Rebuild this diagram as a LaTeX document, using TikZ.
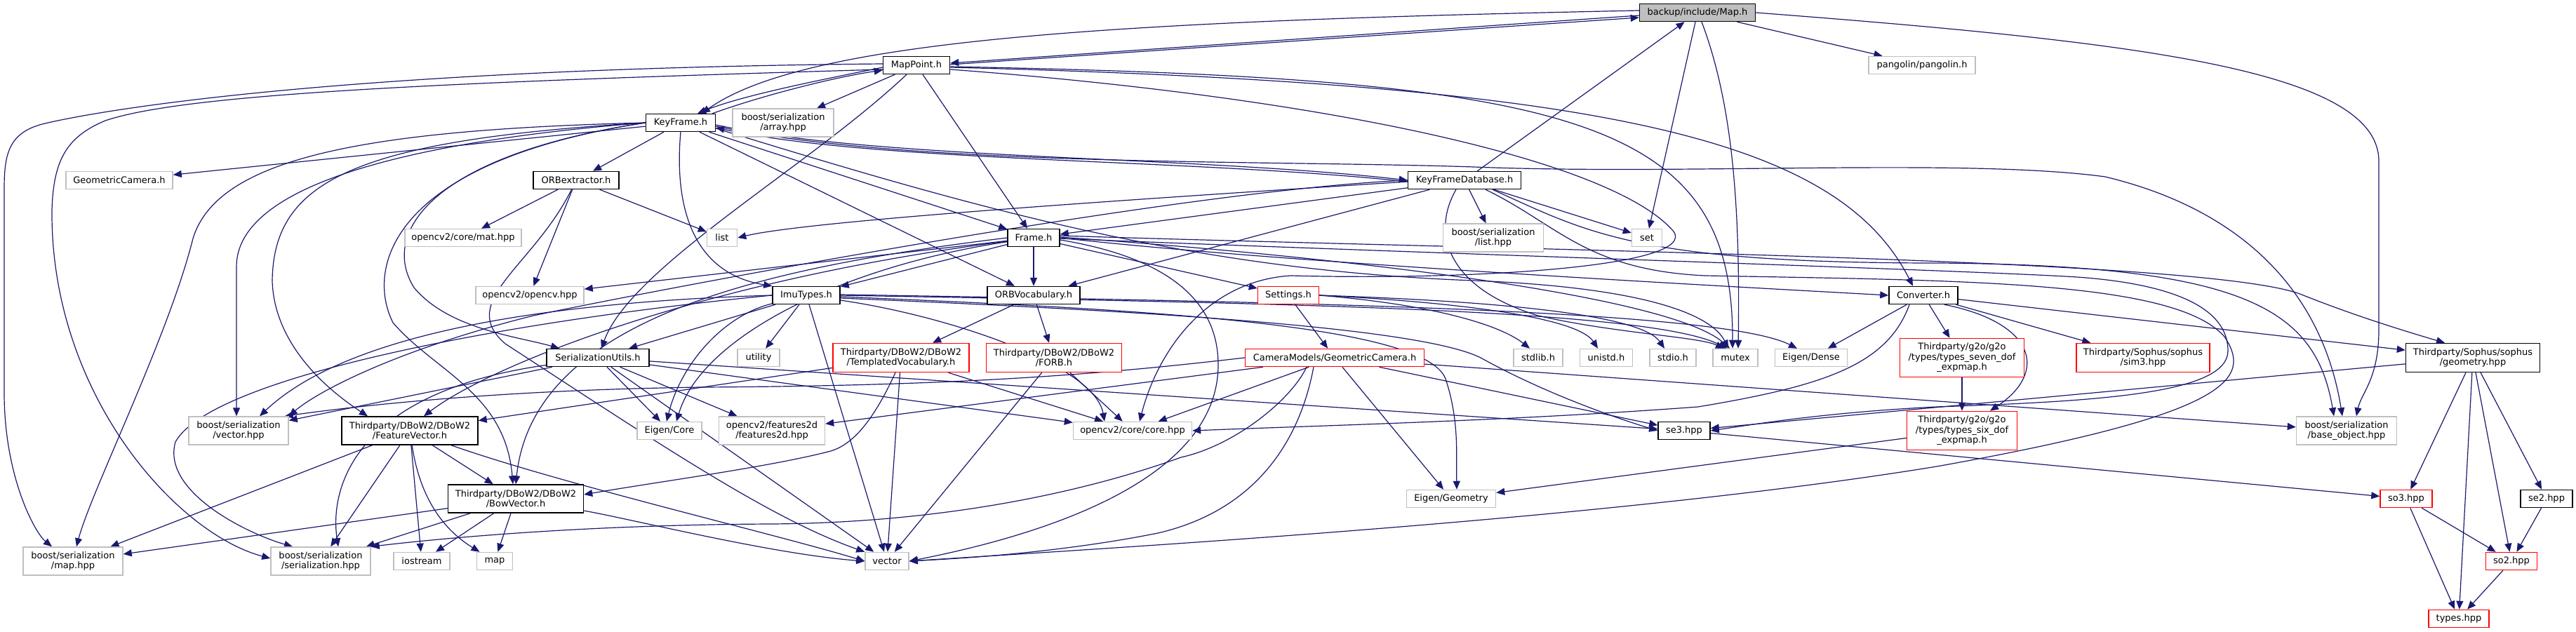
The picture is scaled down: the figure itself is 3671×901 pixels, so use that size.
\documentclass[tikz,border=0pt]{standalone}
\usepackage{fontspec}
\setmainfont{DejaVu Sans}
\usetikzlibrary{arrows.meta,calc}
\pgfdeclarelayer{bg}
\pgfsetlayers{bg,main}
\definecolor{edgec}{HTML}{191970}
\definecolor{grayb}{HTML}{BFBFBF}
\definecolor{mapfill}{HTML}{BFBFBF}
\begin{document}
\begin{tikzpicture}[x=1pt,y=-1pt,
  nb/.style={draw,fill=white,line width=1.5pt,inner sep=0pt,minimum height=25pt,align=center,font=\fontsize{13}{14.5}\selectfont},
  ext/.style={nb,draw=grayb},
  blk/.style={nb,draw=black},
  trn/.style={nb,draw=red},
  lnk/.style={draw=edgec,line width=1.2pt,-{Triangle[length=12pt,width=10pt]}}]
\useasboundingbox (0,0) rectangle (3671,901);
% nodes
\node[blk,fill=mapfill,minimum width=165pt] (map) at (2419,18) {backup/include/Map.h};
\node[blk,minimum width=95pt] (mp) at (1306,93) {MapPoint.h};
\node[ext,minimum width=152pt] (pang) at (2739,93) {pangolin/pangolin.h};
\node[blk,minimum width=99pt] (kf) at (970,175) {KeyFrame.h};
\node[ext,minimum width=144pt,minimum height=40pt] (arr) at (1116,175) {boost/serialization\\/array.hpp};
\node[ext,minimum width=152pt] (gcamh) at (170,257) {GeometricCamera.h};
\node[blk,minimum width=122pt] (orbx) at (821,257) {ORBextractor.h};
\node[blk,minimum width=161pt] (kfd) at (2087,257) {KeyFrameDatabase.h};
\node[ext,minimum width=166pt] (mat) at (660,339) {opencv2/core/mat.hpp};
\node[ext,minimum width=43pt] (list) at (1029,339) {list};
\node[blk,minimum width=74pt] (frame) at (1473,339) {Frame.h};
\node[ext,minimum width=143pt,minimum height=40pt] (lst) at (2128,339) {boost/serialization\\/list.hpp};
\node[ext,minimum width=43pt] (set) at (2347,339) {set};
\node[ext,minimum width=154pt] (ocv) at (755,421) {opencv2/opencv.hpp};
\node[blk,minimum width=96pt] (imu) at (1149,421) {ImuTypes.h};
\node[blk,minimum width=132pt] (voc) at (1473,421) {ORBVocabulary.h};
\node[trn,minimum width=87pt] (sett) at (1836,421) {Settings.h};
\node[blk,minimum width=98pt] (conv) at (2741,421) {Converter.h};
\node[blk,minimum width=146pt] (su) at (852,510) {SerializationUtils.h};
\node[ext,minimum width=60pt] (util) at (1081,510) {utility};
\node[trn,minimum width=194pt,minimum height=41pt] (tvoc) at (1284,510) {Thirdparty/DBoW2/DBoW2\\/TemplatedVocabulary.h};
\node[trn,minimum width=193pt,minimum height=41pt] (forb) at (1502,510) {Thirdparty/DBoW2/DBoW2\\/FORB.h};
\node[trn,minimum width=255pt] (cam) at (1902,510) {CameraModels/GeometricCamera.h};
\node[ext,minimum width=70pt] (stdlib) at (2192,510) {stdlib.h};
\node[ext,minimum width=75pt] (unistd) at (2289,510) {unistd.h};
\node[ext,minimum width=66pt] (stdio) at (2384,510) {stdio.h};
\node[ext,minimum width=64pt] (mutex) at (2473,510) {mutex};
\node[ext,minimum width=103pt] (dense) at (2581,510) {Eigen/Dense};
\node[trn,minimum width=177pt,minimum height=55pt] (seven) at (2796,510) {Thirdparty/g2o/g2o\\/types/types\_seven\_dof\\\_expmap.h};
\node[trn,minimum width=190pt,minimum height=41pt] (sim3) at (3054,510) {Thirdparty/Sophus/sophus\\/sim3.hpp};
\node[blk,minimum width=191pt,minimum height=41pt] (geo) at (3524,510) {Thirdparty/Sophus/sophus\\/geometry.hpp};
\node[ext,minimum width=142pt,minimum height=40pt] (vech) at (340,614) {boost/serialization\\/vector.hpp};
\node[blk,minimum width=194pt,minimum height=40pt] (fv) at (584,614) {Thirdparty/DBoW2/DBoW2\\/FeatureVector.h};
\node[ext,minimum width=92pt] (ecore) at (954,614) {Eigen/Core};
\node[ext,minimum width=151pt,minimum height=40pt] (f2d) at (1100,614) {opencv2/features2d\\/features2d.hpp};
\node[ext,minimum width=169pt] (core) at (1614,614) {opencv2/core/core.hpp};
\node[blk,minimum width=74pt] (se3) at (2400,614) {se3.hpp};
\node[trn,minimum width=157pt,minimum height=55pt] (six) at (2796,614) {Thirdparty/g2o/g2o\\/types/types\_six\_dof\\\_expmap.h};
\node[ext,minimum width=143pt,minimum height=40pt] (base) at (3344,614) {boost/serialization\\/base\_object.hpp};
\node[blk,minimum width=193pt,minimum height=40pt] (bow) at (735,711) {Thirdparty/DBoW2/DBoW2\\/BowVector.h};
\node[ext,minimum width=127pt] (egeo) at (2068,711) {Eigen/Geometry};
\node[trn,minimum width=74pt] (so3) at (3429,711) {so3.hpp};
\node[blk,minimum width=74pt] (se2) at (3629,711) {se2.hpp};
\node[ext,minimum width=142pt,minimum height=40pt] (mapp) at (104,800) {boost/serialization\\/map.hpp};
\node[ext,minimum width=142pt,minimum height=40pt] (ser) at (457,800) {boost/serialization\\/serialization.hpp};
\node[ext,minimum width=80pt] (ios) at (601,800) {iostream};
\node[ext,minimum width=51pt] (mapstd) at (705,800) {map};
\node[ext,minimum width=62pt] (vector) at (1264,800) {vector};
\node[trn,minimum width=73pt] (so2) at (3579,800) {so2.hpp};
\node[trn,minimum width=86pt] (types) at (3504,882) {types.hpp};
\begin{pgfonlayer}{bg}
\fill[white] (0,0) rectangle (3671,901);
% Map.h
\draw[lnk] ([yshift=-4pt]map.west) -- ([yshift=3pt]mp.east);
\draw[lnk] ([yshift=1pt]mp.east) -- ([yshift=-7pt]map.west);
\draw[lnk] ([yshift=3pt]map.west) .. controls (1600,30) and (1150,55) .. ([xshift=30pt]kf.north);
\draw[lnk] (map) -- (set);
\draw[lnk] (map) -- (pang);
\draw[lnk] ([xshift=6pt]map.south) .. controls (2470,150) and (2480,300) .. ([xshift=4pt]mutex.north);
\draw[lnk] (map.east) .. controls (3050,60) and (3390,100) .. (3390,230) -- (3390,470) .. controls (3390,540) and (3365,560) .. ([xshift=14pt]base.north);
% MapPoint.h
\draw[lnk] ([yshift=-3pt]mp.west) .. controls (1180,112) and (1060,135) .. ([xshift=24pt]kf.north);
\draw[lnk] ([xshift=-5pt]kf.north east) .. controls (1090,135) and (1190,110) .. ([yshift=-7pt]mp.west);
\draw[lnk] (mp) -- (arr);
\draw[lnk] (mp) -- (frame);
\draw[lnk] ([yshift=-3pt]mp.east) .. controls (2300,120) and (2620,200) .. ([xshift=-15pt]conv.north);
\draw[lnk] ([yshift=-2pt]mp.east) .. controls (2250,112) and (2470,170) .. ([xshift=-4pt]mutex.north);
\draw[lnk] ([yshift=-6pt]mp.east) .. controls (1900,140) and (2300,230) .. (2385,330) .. controls (2420,380) and (2100,400) .. (1840,393) .. controls (1720,400) and (1650,500) .. ([xshift=10pt]core.north);
\draw[lnk] (mp) .. controls (1150,240) and (900,380) .. (su);
\draw[lnk] ([yshift=-6pt]mp.west) .. controls (600,118) and (260,135) .. (150,172) .. controls (95,195) and (76,228) .. (74,300) .. controls (72,560) and (250,760) .. ([yshift=4pt]ser.west);
\draw[lnk] ([yshift=2pt]mp.west) .. controls (500,98) and (150,155) .. (60,177) .. controls (12,190) and (6,220) .. (6,270) -- (6,560) .. controls (6,680) and (50,760) .. ([xshift=-30pt]mapp.north);
% KeyFrame.h
\draw[lnk] (kf) -- (orbx);
\draw[lnk] (kf) -- (gcamh);
\draw[lnk] (kf.south) .. controls (960,300) and (990,390) .. (imu.north west);
\draw[lnk] (kf) -- (voc);
\draw[lnk] (kf) -- (frame);
\draw[lnk] ([yshift=-3pt]kf.east) .. controls (1250,228) and (1700,222) .. (kfd.west);
\draw[lnk] ([yshift=-2pt]kfd.west) .. controls (1700,226) and (1250,232) .. ([yshift=-7pt]kf.east);
\draw[lnk] ([yshift=-5pt]kf.east) .. controls (1300,238) and (1800,228) .. (2100,238) .. controls (2400,250) and (2800,225) .. (3000,252) .. controls (3200,300) and (3310,420) .. ([xshift=-6pt]base.north);
\draw[lnk] (kf.west) .. controls (600,200) and (337,260) .. (337,380) -- ([xshift=-3pt]vech.north);
\draw[lnk] (kf.west) .. controls (500,200) and (390,260) .. (388,400) .. controls (390,480) and (450,545) .. ([xshift=-60pt]fv.north);
\draw[lnk] (kf.west) .. controls (520,185) and (310,225) .. (275,340) .. controls (240,480) and (130,700) .. ([xshift=5pt]mapp.north);
\draw[lnk] (kf.west) .. controls (560,230) and (520,380) .. (560,460) .. controls (620,530) and (720,560) .. ([xshift=-4pt]bow.north);
\draw[lnk] (kf.west) .. controls (620,220) and (540,330) .. (590,410) .. controls (640,470) and (740,480) .. ([xshift=-55pt]su.north);
\draw[lnk] ([yshift=-8pt]kf.east) .. controls (1400,300) and (1700,385) .. (2100,400) .. controls (2350,410) and (2440,450) .. ([xshift=-10pt]mutex.north);
% KeyFrameDatabase.h
\draw[lnk] (kfd) -- (map);
\draw[lnk] ([yshift=-2pt]kfd.west) .. controls (1600,285) and (1150,315) .. (list.east);
\draw[lnk] (kfd) -- (set);
\draw[lnk] (kfd) -- (lst);
\draw[lnk] (kfd) -- (frame);
\draw[lnk] (kfd) -- (voc);
\draw[lnk] ([xshift=-12pt]kfd.south) .. controls (2040,330) and (2060,410) .. (2192,450) .. controls (2300,475) and (2420,480) .. ([xshift=-16pt]mutex.north);
\draw[lnk] ([xshift=40pt]kfd.south) .. controls (2260,330) and (2330,375) .. (2760,375) .. controls (3200,378) and (3300,440) .. ([xshift=-18pt]base.north);
\draw[lnk] ([xshift=30pt]kfd.south) .. controls (2220,320) and (2260,385) .. (2430,393) .. controls (2800,400) and (3100,400) .. (3170,480) .. controls (3210,540) and (3180,590) .. (2760,665) .. controls (2300,740) and (1600,780) .. (vector.east);
\draw[lnk] (kfd.west) .. controls (1700,270) and (1000,400) .. (760,450) .. controls (560,500) and (450,560) .. (vech.north east);
% ORBextractor.h
\draw[lnk] (orbx) -- (mat);
\draw[lnk] (orbx) -- (ocv);
\draw[lnk] (orbx) -- (list);
\draw[lnk] (orbx) .. controls (760,380) and (650,430) .. (720,490) .. controls (950,640) and (1100,740) .. (vector.north west);
% Frame.h
\draw[lnk] (frame) -- (imu);
\draw[lnk] (frame) -- (voc);
\draw[lnk] (frame) -- (sett);
\draw[lnk] (frame) -- (ocv);
\draw[lnk] (frame.east) .. controls (1800,372) and (2400,405) .. (conv.west);
\draw[lnk] ([yshift=3pt]frame.east) .. controls (2200,358) and (3150,368) .. (3280,420) .. controls (3350,448) and (3420,470) .. ([xshift=-40pt]geo.north);
\draw[lnk] ([yshift=1pt]frame.east) .. controls (1900,365) and (2380,420) .. ([xshift=-8pt]mutex.north);
\draw[lnk] ([yshift=-3pt]frame.east) .. controls (1650,365) and (1736,420) .. (1736,520) .. controls (1736,680) and (1500,760) .. (vector.east);
\draw[lnk] ([yshift=-1pt]frame.east) .. controls (2000,360) and (2800,385) .. (2960,395) .. controls (3100,405) and (3175,440) .. (3175,500) .. controls (3175,560) and (3000,572) .. (2760,580) .. controls (2600,588) and (2500,605) .. (se3.east);
\draw[lnk] (frame) .. controls (1000,400) and (700,520) .. ([xshift=20pt]fv.north);
\draw[lnk] (frame.west) .. controls (1100,380) and (760,450) .. (bow.north);
\draw[lnk] (frame) .. controls (1200,380) and (1000,480) .. ([xshift=10pt]ecore.north);
% ImuTypes.h
\draw[lnk] (imu) -- (vector);
\draw[lnk] (imu) -- (util);
\draw[lnk] (imu) .. controls (1030,450) and (970,520) .. ([xshift=-4pt]ecore.north);
\draw[lnk] (imu) -- (su);
\draw[lnk] (imu) .. controls (1350,450) and (1560,520) .. ([xshift=-40pt]core.north);
\draw[lnk] ([yshift=-2pt]imu.east) .. controls (1600,440) and (2030,460) .. (2060,540) .. controls (2080,600) and (2075,650) .. ([xshift=8pt]egeo.north);
\draw[lnk] ([yshift=-4pt]imu.east) .. controls (1600,442) and (2020,465) .. (2110,510) .. controls (2200,560) and (2300,595) .. (se3.west);
\draw[lnk] (imu.east) .. controls (1800,432) and (2350,440) .. ([xshift=-12pt]mutex.north);
\draw[lnk] ([yshift=1pt]imu.east) .. controls (1800,430) and (2450,440) .. ([xshift=-20pt]dense.north);
\draw[lnk] (imu.west) .. controls (700,460) and (300,540) .. (250,630) .. controls (230,700) and (350,760) .. ([xshift=-40pt]ser.north);
\draw[lnk] (imu.west) .. controls (800,430) and (500,470) .. ([xshift=30pt]vech.north);
% SerializationUtils.h
\draw[lnk] (su) -- (vech);
\draw[lnk] (su) .. controls (500,560) and (470,700) .. ([xshift=25pt]ser.north);
\draw[lnk] (su) -- (core);
\draw[lnk] (su) -- (f2d);
\draw[lnk] (su) -- (ecore);
\draw[lnk] (su) -- (vector);
\draw[lnk] (su) -- (se3);
% ORBVocabulary.h and DBoW2
\draw[lnk] (voc) -- (tvoc);
\draw[lnk] (voc) -- (forb);
\draw[lnk] (tvoc) -- (fv);
\draw[lnk] ([xshift=-8pt]tvoc.south) .. controls (1240,610) and (1210,635) .. (1184,643) .. controls (1100,665) and (950,685) .. ([yshift=6pt]bow.east);
\draw[lnk] (tvoc) -- (vector);
\draw[lnk] (tvoc) -- (core);
\draw[lnk] (forb) -- (vector);
\draw[lnk] (forb) -- (core);
% Settings.h
\draw[lnk] (sett) -- (cam);
\draw[lnk] (sett.east) .. controls (2050,435) and (2140,465) .. ([xshift=-12pt]stdlib.north);
\draw[lnk] (sett.east) .. controls (2100,432) and (2250,455) .. ([xshift=-12pt]unistd.north);
\draw[lnk] (sett.east) .. controls (2150,430) and (2340,450) .. ([xshift=-12pt]stdio.north);
% CameraModels/GeometricCamera.h
\draw[lnk] (cam) -- (core);
\draw[lnk] (cam) -- (f2d);
\draw[lnk] (cam) -- (egeo);
\draw[lnk] (cam) -- (se3);
\draw[lnk] (cam) -- (base);
\draw[lnk] ([xshift=-30pt]cam.south) .. controls (1850,640) and (1780,730) .. (1650,760) .. controls (1500,790) and (1350,797) .. (vector.east);
\draw[lnk] ([xshift=-40pt]cam.south) .. controls (1840,570) and (1760,635) .. (1683,652) .. controls (1550,700) and (1350,745) .. (1100,747) .. controls (850,748) and (650,765) .. (ser.north east);
\draw[lnk] (cam.west) .. controls (1600,530) and (1400,550) .. (1000,552) .. controls (700,556) and (500,580) .. ([xshift=-6pt]vech.north east);
% Converter.h
\draw[lnk] ([xshift=-20pt]conv.south) .. controls (2690,520) and (2600,550) .. (2420,580) .. controls (2150,600) and (1900,606) .. (core.east);
\draw[lnk] (conv) -- (dense);
\draw[lnk] (conv) -- (seven);
\draw[lnk] ([xshift=30pt]conv.south) .. controls (2900,460) and (2920,530) .. ([xshift=40pt]six.north);
\draw[lnk] (conv) -- (sim3);
\draw[lnk] (conv) -- (geo);
% g2o
\draw[lnk] (seven) -- (six);
\draw[lnk] (six) -- (egeo);
% Sophus
\draw[lnk] (geo) -- (se3);
\draw[lnk] (geo) -- (so3);
\draw[lnk] (geo) -- (so2);
\draw[lnk] (geo) -- (types);
\draw[lnk] (geo) -- (se2);
\draw[lnk] (se3) -- (so3);
\draw[lnk] (so3) -- (so2);
\draw[lnk] (so3) -- (types);
\draw[lnk] (se2) -- (so2);
\draw[lnk] (so2) -- (types);
% FeatureVector / BowVector
\draw[lnk] (fv) -- (bow);
\draw[lnk] (fv) -- (mapp);
\draw[lnk] (fv) -- (ser);
\draw[lnk] (fv) -- (ios);
\draw[lnk] (fv) .. controls (600,720) and (640,760) .. (mapstd);
\draw[lnk] (fv) .. controls (800,690) and (1100,760) .. (vector.west);
\draw[lnk] (bow) -- (mapp);
\draw[lnk] (bow) -- (ser);
\draw[lnk] (bow) -- (ios);
\draw[lnk] (bow) -- (mapstd);
\draw[lnk] (bow) .. controls (900,740) and (1100,790) .. (vector.west);
\end{pgfonlayer}
\end{tikzpicture}
\end{document}
